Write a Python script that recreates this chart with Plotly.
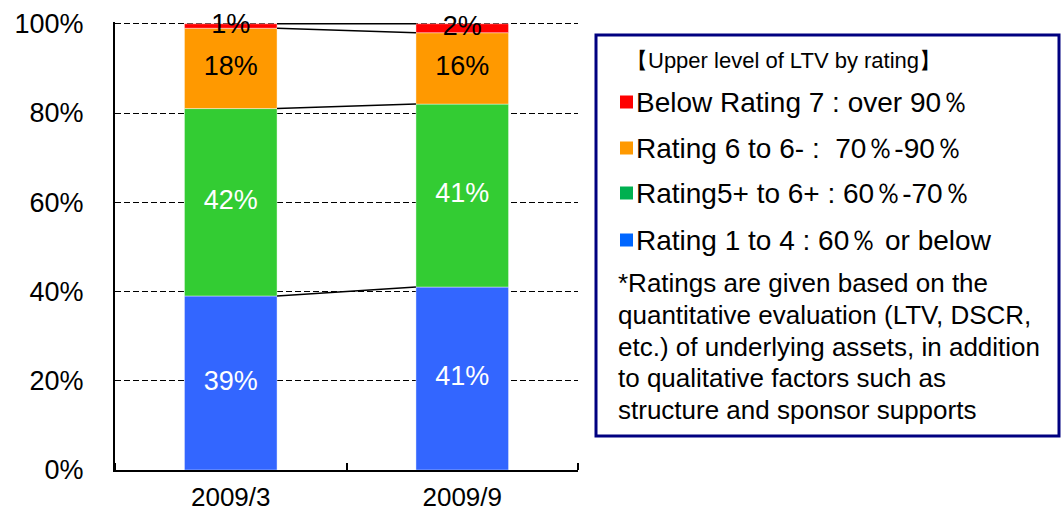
import plotly.graph_objects as go
import numpy as np

categories = ["2009/3", "2009/9"]
series_names = ["Rating 1 to 4", "Rating5+ to 6+", "Rating 6 to 6-", "Below Rating 7"]
blue_vals = [39, 41]
green_vals = [42, 41]
orange_vals = [18, 16]
red_vals = [1, 2]
bar_colors = ["#3366FF", "#33CC33", "#FF9900", "#FF0000"]
label_colors = ["white", "white", "black", "black"]
y_tick_vals = [0, 20, 40, 60, 80, 100]
y_tick_labels = ["0%", "20%", "40%", "60%", "80%", "100%"]

legend_title = "【Upper level of LTV by rating】"
legend_items = ["Below Rating 7 : over 90％", "Rating 6 to 6- :  70％-90％",
                "Rating5+ to 6+ : 60％-70％", "Rating 1 to 4 : 60％ or below"]
legend_colors = ["#FF0000", "#FF9900", "#00B050", "#0066FF"]
note_lines = ["*Ratings are given based on the",
              "quantitative evaluation (LTV, DSCR,",
              "etc.) of underlying assets, in addition",
              "to qualitative factors such as",
              "structure and sponsor supports"]

FONT = "Arial, Liberation Sans, sans-serif"
W, H = 1062, 515
L, R, T, B = 115, 484, 22, 45
PW, PH = W - L - R, H - T - B

def px(x):
    return (x - L) / PW

def py(y):
    return (H - B - y) / PH

xpos = np.arange(len(categories))
bar_w = 0.4
all_vals = [blue_vals, green_vals, orange_vals, red_vals]

fig = go.Figure()
base = np.zeros(len(categories))
tops = []
for name, vals, col in zip(series_names, all_vals, bar_colors):
    fig.add_trace(go.Bar(x=xpos, y=vals, base=base.copy(), name=name, width=bar_w,
                         marker=dict(color=col, line=dict(width=0.6, color="rgba(255,255,255,0.7)")),
                         showlegend=False, hoverinfo="skip"))
    base = base + np.array(vals)
    tops.append(base.copy())

# connector lines between bars
for t in tops:
    fig.add_trace(go.Scatter(x=[xpos[0] + bar_w / 2, xpos[1] - bar_w / 2], y=list(t),
                             mode="lines", line=dict(color="black", width=1.5),
                             showlegend=False, hoverinfo="skip"))

# labels
base = np.zeros(len(categories))
for vals, tc in zip(all_vals, label_colors):
    mids = base + np.array(vals) / 2
    fig.add_trace(go.Scatter(x=xpos, y=mids, mode="text", text=[f"{v}%" for v in vals],
                             textfont=dict(color=tc, size=27, family=FONT),
                             cliponaxis=False, showlegend=False, hoverinfo="skip"))
    base = base + np.array(vals)

fig.update_xaxes(range=[-0.5, 1.5], tickmode="array", tickvals=list(xpos), ticktext=categories,
                 showline=True, linecolor="black", linewidth=2, showgrid=False, zeroline=False,
                 ticks="", ticklabelstandoff=3, automargin=False,
                 minor=dict(tickmode="array", tickvals=[-0.5, 0.5, 1.5], ticks="inside",
                            ticklen=7, tickcolor="black", tickwidth=1.5, showgrid=False),
                 tickfont=dict(size=26, color="black", family=FONT))
fig.update_yaxes(range=[0, 100.4], tickmode="array", tickvals=y_tick_vals, ticktext=y_tick_labels,
                 showline=True, linecolor="black", linewidth=2,
                 showgrid=True, gridcolor="black", griddash="6px,3px", gridwidth=1.2,
                 zeroline=False, ticks="", ticklabelstandoff=24, automargin=False,
                 tickfont=dict(size=27, color="black", family=FONT))

shapes = [dict(type="rect", xref="paper", yref="paper", x0=px(596), x1=px(1059),
               y0=py(35), y1=py(436), line=dict(color="#000080", width=3),
               fillcolor="rgba(0,0,0,0)", layer="above")]
annotations = [dict(xref="paper", yref="paper", x=px(624), y=py(60), text=legend_title,
                    showarrow=False, xanchor="left", yanchor="middle",
                    font=dict(size=22, color="black", family=FONT))]
item_y = [102, 148, 193, 240]
for txt, col, yy in zip(legend_items, legend_colors, item_y):
    shapes.append(dict(type="rect", xref="paper", yref="paper", x0=px(620), x1=px(633),
                       y0=py(yy + 6.5), y1=py(yy - 6.5), fillcolor=col, line=dict(width=0)))
    annotations.append(dict(xref="paper", yref="paper", x=px(634), y=py(yy), text=txt,
                            showarrow=False, xanchor="left", yanchor="middle",
                            font=dict(size=28, color="black", family=FONT)))
note_y = [283, 315, 347, 378, 410]
for txt, yy in zip(note_lines, note_y):
    annotations.append(dict(xref="paper", yref="paper", x=px(616), y=py(yy), text=txt,
                            showarrow=False, xanchor="left", yanchor="middle",
                            font=dict(size=26, color="black", family=FONT)))

fig.update_layout(width=W, height=H, margin=dict(l=L, r=R, t=T, b=B),
                  barmode="overlay", plot_bgcolor="white", paper_bgcolor="white",
                  shapes=shapes, annotations=annotations, font=dict(family=FONT))
fig.write_html("out.html", config={"displayModeBar": False},
               post_script="document.body.style.margin='0';document.body.style.padding='0';document.body.style.overflow='hidden';")
